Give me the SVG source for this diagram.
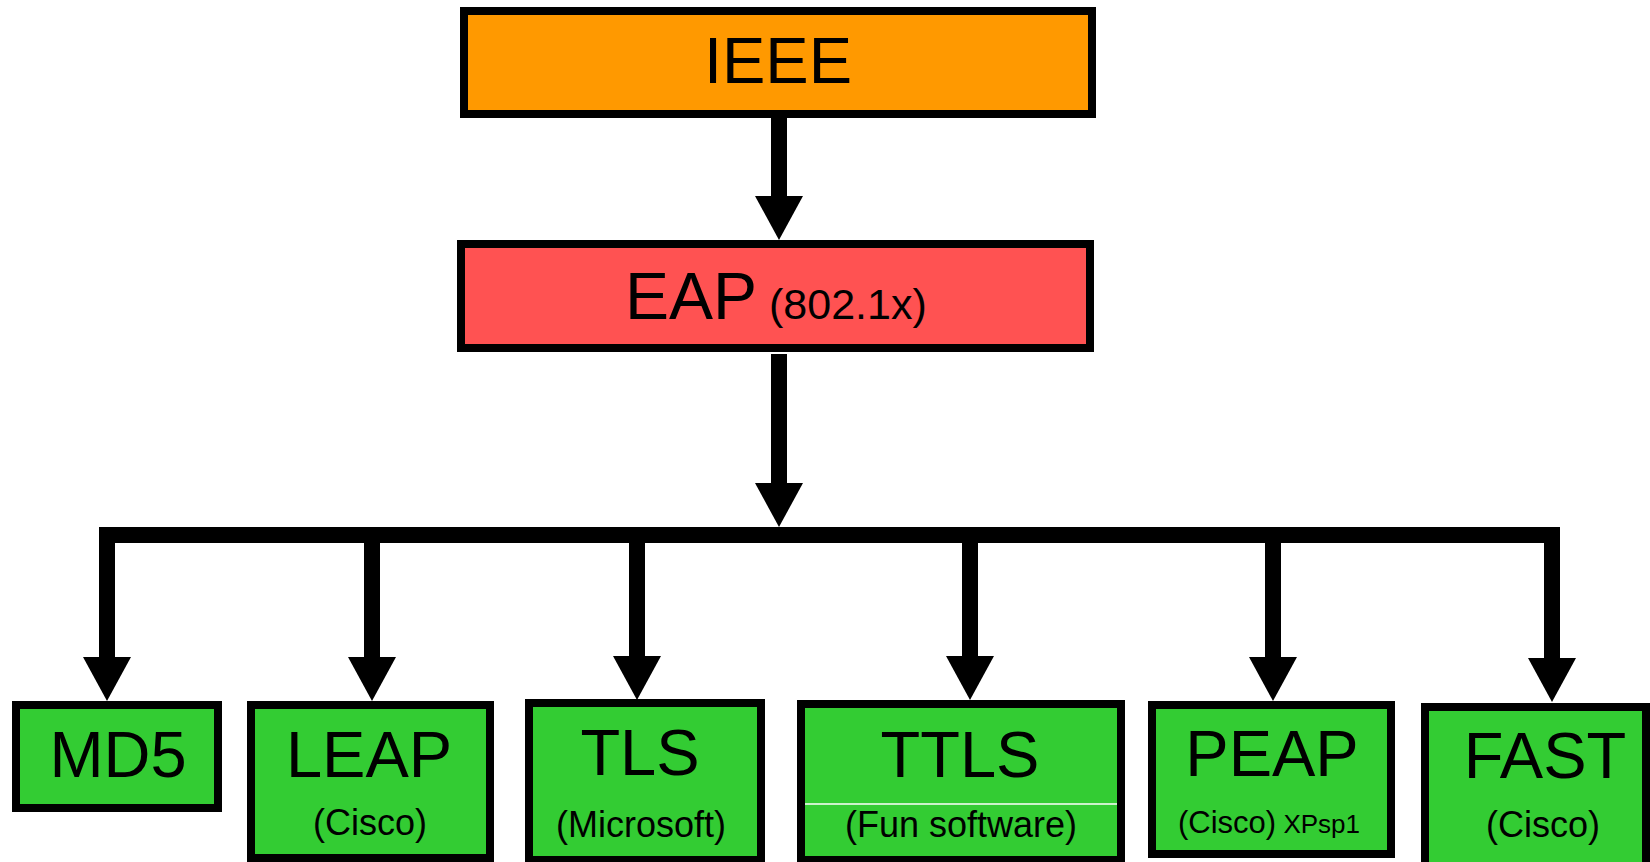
<svg xmlns="http://www.w3.org/2000/svg" width="1650" height="862" viewBox="0 0 1650 862">
  <style>
    .box { stroke: #000; stroke-width: 8; }
    .ieee { fill: #FF9900; }
    .eap { fill: #FF5252; }
    .method { fill: #33CC33; }
    .title { font-family: "Liberation Sans", Arial, sans-serif; font-size: 65px; fill: #000; text-anchor: middle; }
    .sub { font-family: "Liberation Sans", Arial, sans-serif; font-size: 36px; fill: #000; text-anchor: middle; }
    .wire { fill: #000; stroke: none; }
  </style>
  <defs>
    <!-- solid arrowhead, tip at origin, pointing down -->
    <path id="head" d="M -24 -44 L 24 -44 L 0 0 Z"/>
  </defs>
  <rect width="1650" height="862" fill="#fff"/>

  <g id="connectors" class="wire">
    <!-- IEEE to EAP -->
    <rect x="771" y="118" width="16" height="78"/>
    <use href="#head" x="779" y="240"/>
    <!-- EAP down to the distribution bar -->
    <rect x="771" y="354" width="16" height="131"/>
    <use href="#head" x="779" y="527"/>
    <!-- distribution bar -->
    <rect x="99" y="527" width="1461" height="16"/>
    <!-- drops to each method -->
    <rect x="99" y="527" width="16" height="131"/>
    <use href="#head" x="107" y="701"/>
    <rect x="364" y="543" width="16" height="115"/>
    <use href="#head" x="372" y="701"/>
    <rect x="629" y="543" width="16" height="115"/>
    <use href="#head" x="637" y="700"/>
    <rect x="962" y="543" width="16" height="115"/>
    <use href="#head" x="970" y="700"/>
    <rect x="1265" y="543" width="16" height="115"/>
    <use href="#head" x="1273" y="701"/>
    <rect x="1544" y="527" width="16" height="131"/>
    <use href="#head" x="1552" y="702"/>
  </g>

  <g id="node-ieee">
    <rect class="box ieee" x="464" y="11" width="628" height="103"/>
    <text class="title" x="778" y="83">IEEE</text>
  </g>

  <g id="node-eap">
    <rect class="box eap" x="461" y="244" width="629" height="104"/>
    <text x="625" y="319" font-family="Liberation Sans, Arial, sans-serif" fill="#000"><tspan font-size="66">EAP</tspan><tspan font-size="43"> (802.1x)</tspan></text>
  </g>

  <g id="node-md5">
    <rect class="box method" x="16" y="705" width="202" height="103"/>
    <text class="title" x="118" y="777">MD5</text>
  </g>

  <g id="node-leap">
    <rect class="box method" x="251" y="705" width="239" height="153"/>
    <text class="title" x="369" y="777">LEAP</text>
    <text class="sub" x="370" y="835">(Cisco)</text>
  </g>

  <g id="node-tls">
    <rect class="box method" x="529" y="703" width="232" height="157"/>
    <text class="title" x="640" y="775">TLS</text>
    <text class="sub" x="641" y="837">(Microsoft)</text>
  </g>

  <g id="node-ttls">
    <rect class="box method" x="801" y="704" width="320" height="156"/>
    <line x1="805" y1="804" x2="1117" y2="804" stroke="#fff" stroke-width="1.5"/>
    <text class="title" x="960" y="777">TTLS</text>
    <text class="sub" x="961" y="837">(Fun software)</text>
  </g>

  <g id="node-peap">
    <rect class="box method" x="1152" y="705" width="239" height="149"/>
    <text class="title" x="1272" y="776">PEAP</text>
    <text x="1178" y="833" font-family="Liberation Sans, Arial, sans-serif" fill="#000"><tspan font-size="31">(Cisco)</tspan><tspan font-size="26"> XPsp1</tspan></text>
  </g>

  <g id="node-fast">
    <rect class="box method" x="1425" y="707" width="221" height="165"/>
    <text class="title" x="1545" y="778">FAST</text>
    <text class="sub" x="1543" y="837">(Cisco)</text>
  </g>
</svg>
